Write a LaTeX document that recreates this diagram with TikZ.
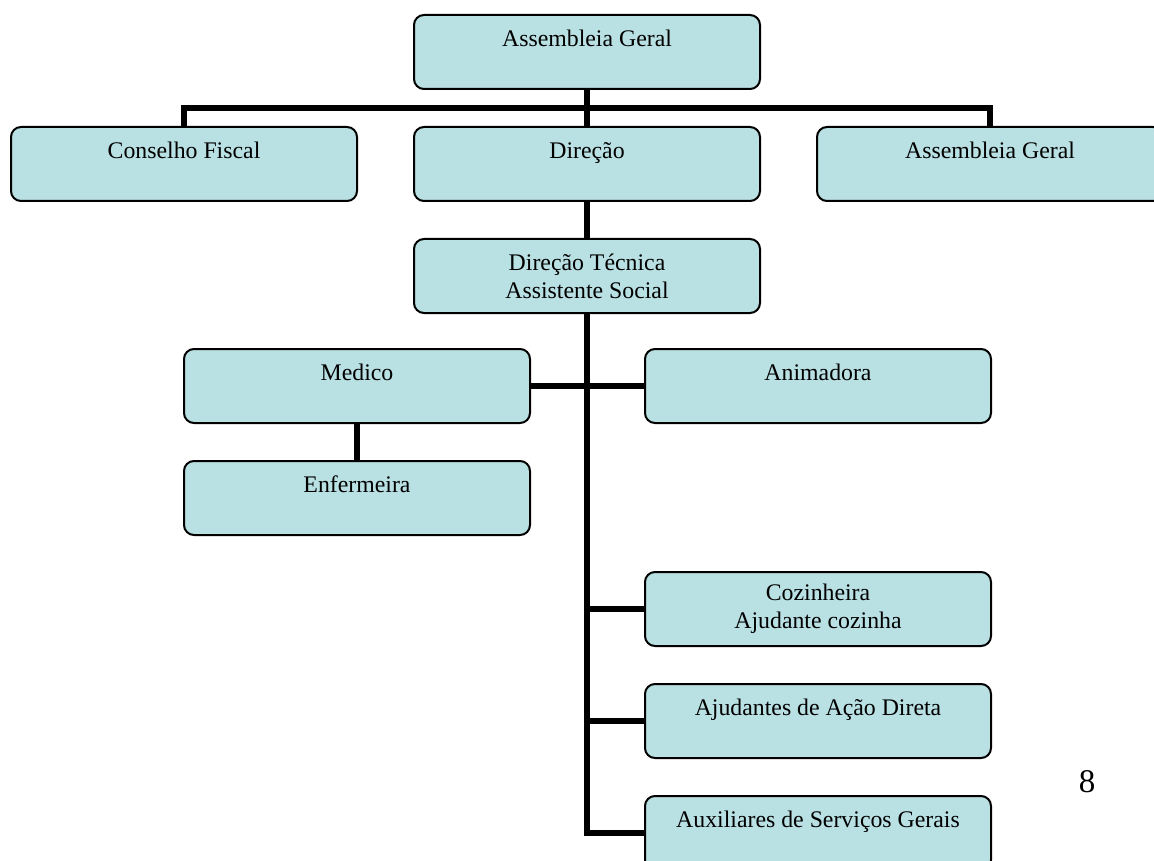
\documentclass[tikz,border=0pt]{standalone}
\usepackage{fontspec}
\setmainfont{Liberation Serif}
\definecolor{boxfill}{RGB}{185,224,227}

\begin{document}
\begin{tikzpicture}[x=1pt,y=-1pt]
	\tikzstyle{every node}+=[inner sep=0pt]
	\tikzstyle{unit}=[draw=black, line width=2pt, fill=boxfill, rounded corners=10pt, minimum width=346pt, minimum height=74pt, align=center, font=\fontsize{23.8}{28}\selectfont]
	\tikzstyle{link}=[black, line width=6pt]
	\useasboundingbox (0,0) rectangle (1154,861);
	\node [unit] (ag) at (587,52) {Assembleia Geral\\ \mbox{}};
	\node [unit] (cf) at (184,164) {Conselho Fiscal\\ \mbox{}};
	\node [unit] (dir) at (587,164) {Direção\\ \mbox{}};
	\node [unit] (ag2) at (990,164) {Assembleia Geral\\ \mbox{}};
	\node [unit] (dt) at (587,276) {Direção Técnica\\ Assistente Social};
	\node [unit] (med) at (357,386) {Medico\\ \mbox{}};
	\node [unit] (anim) at (818,386) {Animadora\\ \mbox{}};
	\node [unit] (enf) at (357,498) {Enfermeira\\ \mbox{}};
	\node [unit] (coz) at (818,609) {Cozinheira\\ Ajudante cozinha};
	\node [unit] (aj) at (818,721) {Ajudantes de Ação Direta\\ \mbox{}};
	\node [unit] (aux) at (818,833) {Auxiliares de Serviços Gerais\\ \mbox{}};
	\node [font=\fontsize{33}{38}\selectfont] (pagenum) at (1087,782) {8};
	\coordinate (bar) at (587,108);
	\draw [link] (ag.south) -- (dir.north);
	\draw [link] (cf.north) |- (bar) -| (ag2.north);
	\draw [link] (dir.south) -- (dt.north);
	\draw [link] (dt.south) |- (aux.west);
	\draw [link] (med.east) -- (anim.west);
	\draw [link] (med.south) -- (enf.north);
	\draw [link] (coz.west) -- (coz.west -| dt.south);
	\draw [link] (aj.west) -- (aj.west -| dt.south);
\end{tikzpicture}
\end{document}
